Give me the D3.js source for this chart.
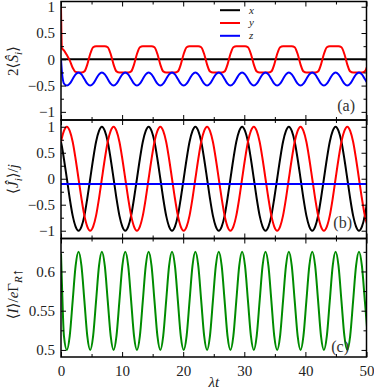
<!DOCTYPE html>
<html>
<head>
<meta charset="utf-8">
<script src="https://cdn.jsdelivr.net/npm/d3@7"></script>
<style>
  body { margin: 0; background: #fff; }
</style>
</head>
<body>
<svg id="chart" width="374" height="389"></svg>
<script>
// sample times (lambda t), shared by the oscillating series
const time = [0, 0.15,
  0.48, 0.96, 1.43, 1.91, 2.39, 2.87, 3.35, 3.83, 4.30, 4.78, 5.26, 5.74, 6.22, 6.69, 7.17,
  7.65, 8.13, 8.61, 9.08, 9.56, 10.04, 10.52, 11.00, 11.48, 11.95, 12.43, 12.91, 13.39, 13.87, 14.34, 14.82,
  15.30, 15.78, 16.26, 16.73, 17.21, 17.69, 18.17, 18.65, 19.13, 19.60, 20.08, 20.56, 21.04, 21.52, 21.99, 22.47,
  22.95, 23.43, 23.91, 24.38, 24.86, 25.34, 25.82, 26.30, 26.78, 27.25, 27.73, 28.21, 28.69, 29.17, 29.64, 30.12,
  30.60, 31.08, 31.56, 32.03, 32.51, 32.99, 33.47, 33.95, 34.43, 34.90, 35.38, 35.86, 36.34, 36.82, 37.29, 37.77,
  38.25, 38.73, 39.21, 39.68, 40.16, 40.64, 41.12, 41.60, 42.08, 42.55, 43.03, 43.51, 43.99, 44.47, 44.94, 45.42,
  45.90, 46.38, 46.86, 47.33, 47.81, 48.29, 48.77, 49.25, 49.73, 50.20];

// (a) dot spin 2<S_i>
const spinXTime = [0, 50];
const spinX = [0, 0];
const spinY = [1, 0.21,
  0.17, 0.08, -0.02, -0.16, -0.24, -0.25, -0.25, -0.23, -0.1, 0.1, 0.23, 0.25, 0.25, 0.25, 0.25,
  0.23, 0.1, -0.1, -0.23, -0.25, -0.25, -0.25, -0.25, -0.23, -0.1, 0.1, 0.23, 0.25, 0.25, 0.25, 0.25,
  0.23, 0.1, -0.1, -0.23, -0.25, -0.25, -0.25, -0.25, -0.23, -0.1, 0.1, 0.23, 0.25, 0.25, 0.25, 0.25,
  0.23, 0.1, -0.1, -0.23, -0.25, -0.25, -0.25, -0.25, -0.23, -0.1, 0.1, 0.23, 0.25, 0.25, 0.25, 0.25,
  0.23, 0.1, -0.1, -0.23, -0.25, -0.25, -0.25, -0.25, -0.23, -0.1, 0.1, 0.23, 0.25, 0.25, 0.25, 0.25,
  0.23, 0.1, -0.1, -0.23, -0.25, -0.25, -0.25, -0.25, -0.23, -0.1, 0.1, 0.23, 0.25, 0.25, 0.25, 0.25,
  0.23, 0.1, -0.1, -0.23, -0.25, -0.25, -0.25, -0.25, -0.23, -0.1];
const spinZ = [0, -0.24,
  -0.46, -0.5, -0.463, -0.375, -0.287, -0.25, -0.287, -0.375, -0.463, -0.5, -0.463, -0.375, -0.287, -0.25, -0.287,
  -0.375, -0.463, -0.5, -0.463, -0.375, -0.287, -0.25, -0.287, -0.375, -0.463, -0.5, -0.463, -0.375, -0.287, -0.25, -0.287,
  -0.375, -0.463, -0.5, -0.463, -0.375, -0.287, -0.25, -0.287, -0.375, -0.463, -0.5, -0.463, -0.375, -0.287, -0.25, -0.287,
  -0.375, -0.463, -0.5, -0.463, -0.375, -0.287, -0.25, -0.287, -0.375, -0.463, -0.5, -0.463, -0.375, -0.287, -0.25, -0.287,
  -0.375, -0.463, -0.5, -0.463, -0.375, -0.287, -0.25, -0.287, -0.375, -0.463, -0.5, -0.463, -0.375, -0.287, -0.25, -0.287,
  -0.375, -0.463, -0.5, -0.463, -0.375, -0.287, -0.25, -0.287, -0.375, -0.463, -0.5, -0.463, -0.375, -0.287, -0.25, -0.287,
  -0.375, -0.463, -0.5, -0.463, -0.375, -0.287, -0.25, -0.287, -0.375, -0.463];

// (b) nuclear spin <J_i>/j
const jX = [0.71, 0.62,
  0.38, 0, -0.38, -0.71, -0.92, -1, -0.92, -0.71, -0.38, 0, 0.38, 0.71, 0.92, 1, 0.92,
  0.71, 0.38, 0, -0.38, -0.71, -0.92, -1, -0.92, -0.71, -0.38, 0, 0.38, 0.71, 0.92, 1, 0.92,
  0.71, 0.38, 0, -0.38, -0.71, -0.92, -1, -0.92, -0.71, -0.38, 0, 0.38, 0.71, 0.92, 1, 0.92,
  0.71, 0.38, 0, -0.38, -0.71, -0.92, -1, -0.92, -0.71, -0.38, 0, 0.38, 0.71, 0.92, 1, 0.92,
  0.71, 0.38, 0, -0.38, -0.71, -0.92, -1, -0.92, -0.71, -0.38, 0, 0.38, 0.71, 0.92, 1, 0.92,
  0.71, 0.38, 0, -0.38, -0.71, -0.92, -1, -0.92, -0.71, -0.38, 0, 0.38, 0.71, 0.92, 1, 0.92,
  0.71, 0.38, 0, -0.38, -0.71, -0.92, -1, -0.92, -0.71, -0.38];
const jY = [0.71, 0.79,
  0.92, 1, 0.92, 0.71, 0.38, 0, -0.38, -0.71, -0.92, -1, -0.92, -0.71, -0.38, 0, 0.38,
  0.71, 0.92, 1, 0.92, 0.71, 0.38, 0, -0.38, -0.71, -0.92, -1, -0.92, -0.71, -0.38, 0, 0.38,
  0.71, 0.92, 1, 0.92, 0.71, 0.38, 0, -0.38, -0.71, -0.92, -1, -0.92, -0.71, -0.38, 0, 0.38,
  0.71, 0.92, 1, 0.92, 0.71, 0.38, 0, -0.38, -0.71, -0.92, -1, -0.92, -0.71, -0.38, 0, 0.38,
  0.71, 0.92, 1, 0.92, 0.71, 0.38, 0, -0.38, -0.71, -0.92, -1, -0.92, -0.71, -0.38, 0, 0.38,
  0.71, 0.92, 1, 0.92, 0.71, 0.38, 0, -0.38, -0.71, -0.92, -1, -0.92, -0.71, -0.38, 0, 0.38,
  0.71, 0.92, 1, 0.92, 0.71, 0.38, 0, -0.38, -0.71, -0.92];
const jZTime = [0, 50];
const jZ = [-0.1, -0.1];

// (c) current <I>/e Gamma
const current = [0.623, 0.585,
  0.518, 0.5, 0.518, 0.5625, 0.607, 0.625, 0.607, 0.5625, 0.518, 0.5, 0.518, 0.5625, 0.607, 0.625, 0.607,
  0.5625, 0.518, 0.5, 0.518, 0.5625, 0.607, 0.625, 0.607, 0.5625, 0.518, 0.5, 0.518, 0.5625, 0.607, 0.625, 0.607,
  0.5625, 0.518, 0.5, 0.518, 0.5625, 0.607, 0.625, 0.607, 0.5625, 0.518, 0.5, 0.518, 0.5625, 0.607, 0.625, 0.607,
  0.5625, 0.518, 0.5, 0.518, 0.5625, 0.607, 0.625, 0.607, 0.5625, 0.518, 0.5, 0.518, 0.5625, 0.607, 0.625, 0.607,
  0.5625, 0.518, 0.5, 0.518, 0.5625, 0.607, 0.625, 0.607, 0.5625, 0.518, 0.5, 0.518, 0.5625, 0.607, 0.625, 0.607,
  0.5625, 0.518, 0.5, 0.518, 0.5625, 0.607, 0.625, 0.607, 0.5625, 0.518, 0.5, 0.518, 0.5625, 0.607, 0.625, 0.607,
  0.5625, 0.518, 0.5, 0.518, 0.5625, 0.607, 0.625, 0.607, 0.5625, 0.518];

// ticks
const xMajor = [0, 10, 20, 30, 40, 50];
const xMinor = [5, 15, 25, 35, 45];
const spinMajor = [-1, -0.5, 0, 0.5, 1];
const spinMinor = [-0.75, -0.25, 0.25, 0.75];
const currentMajor = [0.5, 0.55, 0.6];
const currentMinor = [0.525, 0.575, 0.625];
const legendNames = ["x", "y", "z"];

// layout
const LEFT = 61, RIGHT = 366.5;
const MAJOR_TICK = 5, MINOR_TICK = 3;
const FONT = "Liberation Serif, DejaVu Serif, serif";
const COLORS = { x: "#000000", y: "#ff0000", z: "#0000ff", I: "#008c00" };

var svg = d3.select("#chart");
var xScale = d3.scaleLinear().domain([0, 50]).range([LEFT, RIGHT]);
var fmt = d3.format("~g");

function zip(ts, vs) { return ts.map(function(t, i) { return [t, vs[i]]; }); }

function drawPanel(p) {
	var g = svg.append("g");
	var yScale = d3.scaleLinear().domain(p.domain).range([p.bottom, p.top]);

	var clipId = "clip-" + p.name;
	svg.append("clipPath").attr("id", clipId)
	  .append("rect")
		.attr("x", LEFT).attr("y", p.top)
		.attr("width", RIGHT - LEFT).attr("height", p.bottom - p.top);

	// curves
	var line = d3.line()
		.x(function(d) { return xScale(d[0]); })
		.y(function(d) { return yScale(d[1]); })
		.curve(d3.curveMonotoneX);
	var curves = g.append("g").attr("clip-path", "url(#" + clipId + ")");
	p.series.forEach(function(s) {
		curves.append("path")
			.datum(zip(s.t, s.v))
			.attr("d", line)
			.attr("fill", "none")
			.attr("stroke", s.color)
			.attr("stroke-width", 2);
	});

	// inward ticks on all four sides
	function addAxis(axis, tx, ty, labels) {
		var a = g.append("g").attr("transform", "translate(" + tx + "," + ty + ")").call(axis);
		a.select(".domain").remove();
		a.attr("font-family", FONT).attr("font-size", 15);
		a.selectAll(".tick line").attr("stroke", "#000").attr("stroke-width", 1);
		a.selectAll("text").attr("fill", "#222");
		if (!labels) a.selectAll("text").remove();
		return a;
	}
	addAxis(d3.axisLeft(yScale).tickValues(p.major).tickSize(-MAJOR_TICK).tickPadding(6).tickFormat(fmt), LEFT, 0, true);
	addAxis(d3.axisLeft(yScale).tickValues(p.minor).tickSize(-MINOR_TICK), LEFT, 0, false);
	addAxis(d3.axisRight(yScale).tickValues(p.major).tickSize(-MAJOR_TICK), RIGHT, 0, false);
	addAxis(d3.axisRight(yScale).tickValues(p.minor).tickSize(-MINOR_TICK), RIGHT, 0, false);
	addAxis(d3.axisTop(xScale).tickValues(xMajor).tickSize(-MAJOR_TICK), 0, p.top, false);
	addAxis(d3.axisTop(xScale).tickValues(xMinor).tickSize(-MINOR_TICK), 0, p.top, false);
	addAxis(d3.axisBottom(xScale).tickValues(xMajor).tickSize(-MAJOR_TICK).tickPadding(8).tickFormat(fmt), 0, p.bottom, p.xLabels);
	addAxis(d3.axisBottom(xScale).tickValues(xMinor).tickSize(-MINOR_TICK), 0, p.bottom, false);

	// frame
	g.append("rect")
		.attr("x", LEFT).attr("y", p.top)
		.attr("width", RIGHT - LEFT).attr("height", p.bottom - p.top)
		.attr("fill", "none").attr("stroke", "#000").attr("stroke-width", 1.5);

	// panel tag
	g.append("text")
		.attr("x", p.tagX).attr("y", p.tagY)
		.attr("text-anchor", "end")
		.attr("font-family", FONT).attr("font-size", 16)
		.attr("fill", "#333")
		.text(p.tag);

	// rotated y title
	var title = g.append("text")
		.attr("transform", "translate(18," + p.titleY + ") rotate(-90)")
		.attr("text-anchor", "middle")
		.attr("font-family", FONT).attr("font-size", 15)
		.attr("fill", "#222");
	p.title.forEach(function(part) {
		var ts = title.append("tspan").text(part.s);
		if (part.it) ts.attr("font-style", "italic");
		if (part.sub) ts.attr("dy", 4).attr("font-size", 11);
		if (part.up) ts.attr("dy", -4);
	});
	return yScale;
}

drawPanel({
	name: "a", top: 1.5, bottom: 120, domain: [-1.155, 1.1],
	major: spinMajor, minor: spinMinor, xLabels: false,
	tag: "(a)", tagX: 355, tagY: 110.5, titleY: 61,
	title: [{s: "2⟨"}, {s: "S\u0302", it: true}, {s: "i", it: true, sub: true}, {s: "⟩", up: true}],
	series: [
		{t: spinXTime, v: spinX, color: COLORS.x},
		{t: time, v: spinY, color: COLORS.y},
		{t: time, v: spinZ, color: COLORS.z}
	]
});

drawPanel({
	name: "b", top: 120, bottom: 238.5, domain: [-1.15, 1.13],
	major: spinMajor, minor: spinMinor, xLabels: false,
	tag: "(b)", tagX: 352, tagY: 228, titleY: 179,
	title: [{s: "⟨"}, {s: "J\u0302", it: true}, {s: "i", it: true, sub: true}, {s: "⟩/", up: true}, {s: "j", it: true}],
	series: [
		{t: time, v: jX, color: COLORS.x},
		{t: time, v: jY, color: COLORS.y},
		{t: jZTime, v: jZ, color: COLORS.z}
	]
});

drawPanel({
	name: "c", top: 238.5, bottom: 357, domain: [0.491, 0.642],
	major: currentMajor, minor: currentMinor, xLabels: true,
	tag: "(c)", tagX: 349, tagY: 351.5, titleY: 294,
	title: [{s: "⟨"}, {s: "I", it: true}, {s: "⟩/"}, {s: "e", it: true}, {s: "Γ"}, {s: "R", it: true, sub: true}, {s: "↑"}],
	series: [
		{t: time, v: current, color: COLORS.I}
	]
});

// x title
svg.append("text")
	.attr("x", (LEFT + RIGHT) / 2).attr("y", 387)
	.attr("text-anchor", "middle")
	.attr("font-family", FONT).attr("font-size", 15)
	.attr("font-style", "italic")
	.attr("fill", "#222")
	.text("λt");

// legend in panel (a)
var legend = svg.append("g");
legendNames.forEach(function(n, i) {
	var ly = 10.2 + i * 12.8;
	legend.append("line")
		.attr("x1", 220).attr("x2", 240).attr("y1", ly).attr("y2", ly)
		.attr("stroke", COLORS[n]).attr("stroke-width", 2);
	legend.append("text")
		.attr("x", 249).attr("y", ly).attr("dy", "0.3em")
		.attr("font-family", FONT).attr("font-size", 11)
		.attr("font-style", "italic")
		.attr("fill", "#222")
		.text(n);
});
</script>
</body>
</html>
